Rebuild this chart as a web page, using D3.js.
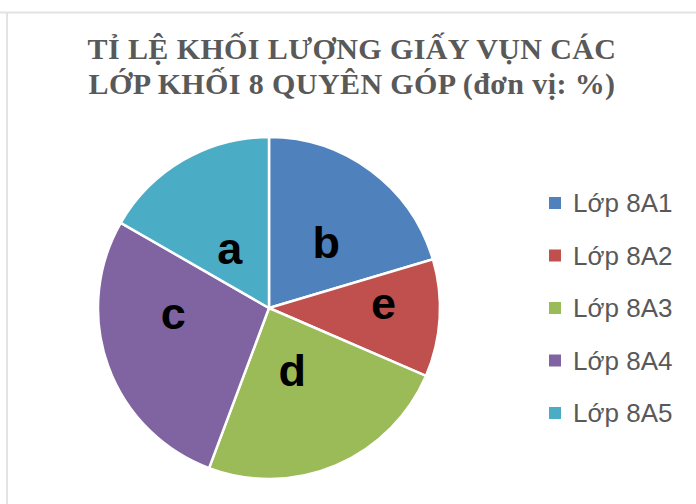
<!DOCTYPE html>
<html>
<head>
<meta charset="utf-8">
<script src="https://cdn.jsdelivr.net/npm/d3@7"></script>
<style>
  body { margin: 0; background: #fff; }
  svg { display: block; }
</style>
</head>
<body>
<div id="chart"></div>
<script>
const classes = ["Lớp 8A1", "Lớp 8A2", "Lớp 8A3", "Lớp 8A4", "Lớp 8A5"];
const shares = [20.4, 11.1, 24.2, 27.6, 16.7];
const letters = ["b", "e", "d", "c", "a"];
const colors = ["#4F81BD", "#C0504D", "#9BBB59", "#8064A2", "#4BACC6"];
const titleLines = ["TỈ LỆ KHỐI LƯỢNG GIẤY VỤN CÁC", "LỚP KHỐI 8 QUYÊN GÓP (đơn vị: %)"];

// where the letter sits inside its slice (share of the slice angle, share of radius)
const labelT = [0.56, 0.36, 0.53, 0.67, 0.45];
const labelR = [0.51, 0.67, 0.39, 0.56, 0.42];

const width = 696;
const height = 504;
const cx = 269, cy = 308, radius = 171;
const textGrey = "#595959";

const svg = d3.select("#chart").append("svg")
  .attr("width", width)
  .attr("height", height);

// faint sheet grid lines
svg.append("line")
  .attr("x1", 0).attr("x2", width).attr("y1", 12.5).attr("y2", 12.5)
  .style("stroke", "#e3e3e3").style("stroke-width", 2);
svg.append("line")
  .attr("x1", 7).attr("x2", 7).attr("y1", 12).attr("y2", height)
  .style("stroke", "#e3e3e3").style("stroke-width", 2);

svg.append("text")
  .attr("x", 352)
  .attr("text-anchor", "middle")
  .style("font-family", "'Liberation Serif', 'Times New Roman', serif")
  .style("font-weight", "bold")
  .style("font-size", "30px")
  .style("letter-spacing", "0.4px")
  .style("fill", textGrey)
  .selectAll("tspan")
  .data(titleLines)
  .enter()
  .append("tspan")
  .attr("x", 352)
  .attr("y", (d, i) => 59 + i * 35)
  .text(d => d);

const pie = d3.pie().sort(null).value(d => d)(shares);
const arc = d3.arc().innerRadius(0).outerRadius(radius);

const g = svg.append("g").attr("transform", `translate(${cx},${cy})`);

g.selectAll("path")
  .data(pie)
  .enter()
  .append("path")
  .attr("d", arc)
  .attr("fill", (d, i) => colors[i])
  .style("stroke", "#fff")
  .style("stroke-width", 2.5);

g.selectAll("text.lbl")
  .data(pie)
  .enter()
  .append("text")
  .attr("class", "lbl")
  .attr("x", (d, i) => {
    const a = d.startAngle + (d.endAngle - d.startAngle) * labelT[i];
    return Math.sin(a) * radius * labelR[i];
  })
  .attr("y", (d, i) => {
    const a = d.startAngle + (d.endAngle - d.startAngle) * labelT[i];
    return -Math.cos(a) * radius * labelR[i];
  })
  .attr("text-anchor", "middle")
  .attr("dy", "0.35em")
  .style("font-family", "'Liberation Sans', Arial, sans-serif")
  .style("font-weight", "bold")
  .style("font-size", "45px")
  .style("fill", "#000")
  .text((d, i) => letters[i]);

const legend = svg.append("g");
const rows = legend.selectAll("g")
  .data(classes)
  .enter()
  .append("g")
  .attr("transform", (d, i) => `translate(549, ${203 + i * 52.5})`);

rows.append("rect")
  .attr("x", 0).attr("y", -6)
  .attr("width", 12).attr("height", 12)
  .attr("fill", (d, i) => colors[i]);

rows.append("text")
  .attr("x", 24)
  .attr("dy", "0.35em")
  .style("font-family", "'Liberation Sans', Arial, sans-serif")
  .style("font-size", "26px")
  .style("fill", textGrey)
  .text(d => d);
</script>
</body>
</html>
